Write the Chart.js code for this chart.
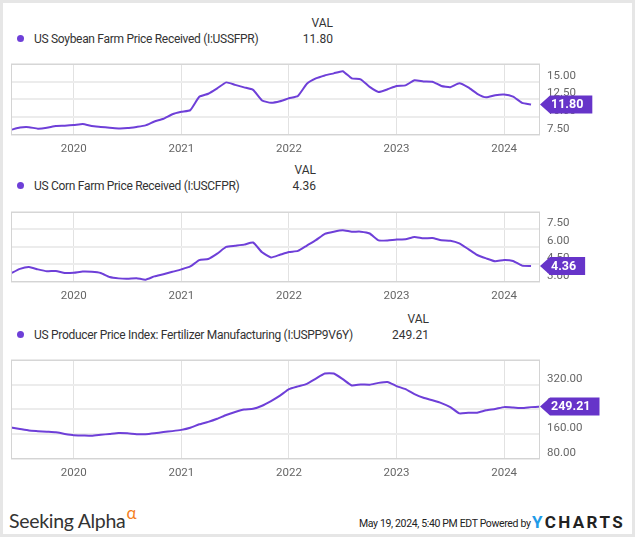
<!DOCTYPE html>
<html>
<head>
<meta charset="utf-8">
<script src="https://cdn.jsdelivr.net/npm/chart.js@4.4.1/dist/chart.umd.min.js"></script>
<style>
  body { margin: 0; background: #fff; }
  #wrap { position: relative; width: 635px; height: 537px; background: #fff; overflow: hidden;
          font-family: Roboto, "Noto Sans", sans-serif; color: #333; }
  #frame { position: absolute; left: 0; top: 0; width: 635px; height: 537px; box-sizing: border-box;
           border: 3px solid #e6e6e6; pointer-events: none; z-index: 5; }
  canvas { position: absolute; left: 0; }
  .t { position: absolute; white-space: nowrap; font-size: 12px; line-height: 14px; }
  .lg { letter-spacing: -0.3px; }
  .dot { position: absolute; width: 7px; height: 7px; border-radius: 50%; background: #6e3fd8; }
  .val { text-align: right; width: 60px; }
</style>
</head>
<body>
<div id="wrap">
  <div class="t val" style="left:273px;top:16px">VAL</div>
  <div class="dot" style="left:17px;top:35px"></div>
  <div class="t lg" style="left:34px;top:32px">US Soybean Farm Price Received (I:USSFPR)</div>
  <div class="t val" style="left:273px;top:32px">11.80</div>
  <canvas id="c1" width="635" height="110" style="top:50px"></canvas>

  <div class="t val" style="left:256px;top:163px">VAL</div>
  <div class="dot" style="left:17px;top:182px"></div>
  <div class="t lg" style="left:34px;top:179px">US Corn Farm Price Received (I:USCFPR)</div>
  <div class="t val" style="left:256px;top:179px">4.36</div>
  <canvas id="c2" width="635" height="109" style="top:198px"></canvas>

  <div class="t val" style="left:369px;top:312px">VAL</div>
  <div class="dot" style="left:17px;top:331px"></div>
  <div class="t lg" style="left:34px;top:328px">US Producer Price Index: Fertilizer Manufacturing (I:USPP9V6Y)</div>
  <div class="t val" style="left:369px;top:328px">249.21</div>
  <canvas id="c3" width="635" height="138" style="top:346px"></canvas>

  <div class="t" style="left:9px;top:509px;font-family:Lato,'Open Sans',sans-serif;font-size:19.5px;line-height:24px;color:#333;letter-spacing:-0.3px">Seeking Alpha<span style="position:relative;top:-9px;margin-left:1px;font-size:17px;color:#f4811f">α</span></div>
  <div class="t" style="left:359px;top:517px;font-size:10.5px;line-height:14px;color:#222;letter-spacing:-0.35px">May 19, 2024, 5:40 PM EDT Powered by</div>
  <div class="t" style="left:532px;top:512px;font-size:17px;line-height:20px;font-weight:bold;letter-spacing:2.4px;color:#222"><span style="color:#1e9be8">Y</span>CHARTS</div>
  <div id="frame"></div>
</div>
<script>
// monthly observations, Jun 2019 .. May 2024
const months = [
  '2019-06','2019-07','2019-08','2019-09','2019-10','2019-11','2019-12',
  '2020-01','2020-02','2020-03','2020-04','2020-05','2020-06','2020-07','2020-08','2020-09','2020-10','2020-11','2020-12',
  '2021-01','2021-02','2021-03','2021-04','2021-05','2021-06','2021-07','2021-08','2021-09','2021-10','2021-11','2021-12',
  '2022-01','2022-02','2022-03','2022-04','2022-05','2022-06','2022-07','2022-08','2022-09','2022-10','2022-11','2022-12',
  '2023-01','2023-02','2023-03','2023-04','2023-05','2023-06','2023-07','2023-08','2023-09','2023-10','2023-11','2023-12',
  '2024-01','2024-02','2024-03','2024-04','2024-05'
];
const yearTicks = [2020, 2021, 2022, 2023, 2024];

const soybean = [
  8.22, 8.55, 8.60, 8.39, 8.51, 8.77, 8.81,
  8.90, 9.06, 8.77, 8.64, 8.51, 8.43, 8.47, 8.64, 8.85, 9.40, 9.78, 10.42,
  10.76, 11.00, 12.87, 13.30, 14.06, 14.90, 14.55, 14.20, 13.85, 12.36, 12.03, 12.24,
  12.66, 12.99, 14.70, 15.46, 15.88, 16.17, 16.47, 15.46, 15.33, 14.27, 13.55, 13.93,
  14.40, 14.48, 15.20, 15.03, 14.99, 14.40, 14.23, 14.77, 14.19, 13.30, 12.80, 13.10,
  13.20, 12.90, 12.03, 11.80
];
const corn = [
  3.74, 4.12, 4.28, 4.08, 3.92, 3.95, 3.77,
  3.79, 3.89, 3.87, 3.77, 3.43, 3.31, 3.28, 3.33, 3.20, 3.48, 3.66, 3.87,
  4.08, 4.33, 4.87, 4.97, 5.43, 6.00, 6.10, 6.20, 6.38, 5.54, 5.10, 5.33,
  5.56, 5.66, 6.12, 6.58, 7.12, 7.31, 7.43, 7.31, 7.31, 7.15, 6.56, 6.56,
  6.64, 6.66, 6.85, 6.74, 6.77, 6.58, 6.54, 6.31, 5.82, 5.31, 5.02, 4.77,
  4.89, 4.80, 4.40, 4.36
];
const fertilizer = [
  182, 177, 172, 170, 168, 166, 161,
  157, 156, 155, 158, 161, 164, 163, 160, 160, 163, 167, 170,
  174, 181, 192, 200, 210, 222, 232, 240, 242, 252, 267, 284.5,
  305.6, 314.6, 322.7, 339.6, 356, 356, 338, 317.6, 320.6, 319.7, 325.8, 328.8,
  315.5, 305.6, 289.6, 277.6, 269.5, 260.5, 247.5, 227.4, 229.5, 229.5, 237.3, 241.5,
  247.5, 246.4, 244.5, 247.5, 249.21
];

const purple = '#6e3fd8';

function toYear(m) {
  const p = m.split('-');
  return +p[0] + (+p[1] - 1) / 12;
}

// chart border + last value badge
const framePlugin = {
  id: 'framePlugin',
  afterDraw(chart, args, opts) {
    const ctx = chart.ctx, a = chart.chartArea;
    ctx.save();
    ctx.strokeStyle = '#d4d4d4';
    ctx.lineWidth = 1;
    ctx.strokeRect(a.left + 0.5, a.top + 0.5, a.right - a.left - 1, a.bottom - a.top - 1);

    const data = chart.data.datasets[0].data;
    const last = data[data.length - 1].y;
    const y = chart.scales.y.getPixelForValue(last);
    const x = a.right;
    const txt = opts.text;
    ctx.font = 'bold 12.5px Roboto';
    const w = ctx.measureText(txt).width;
    ctx.fillStyle = '#6634c9';
    ctx.beginPath();
    ctx.moveTo(x, y);
    ctx.lineTo(x + 10, y - 9);
    ctx.lineTo(x + 20 + w, y - 9);
    ctx.lineTo(x + 20 + w, y + 9);
    ctx.lineTo(x + 10, y + 9);
    ctx.closePath();
    ctx.fill();
    ctx.fillStyle = '#fff';
    ctx.textBaseline = 'middle';
    ctx.textAlign = 'left';
    ctx.fillText(txt, x + 11, y + 0.5);
    ctx.restore();
  }
};

function makeChart(id, values, yMin, yMax, yStep, badge) {
  const pts = values.map((v, i) => ({ x: toYear(months[i]), y: v }));
  return new Chart(document.getElementById(id), {
    type: 'line',
    data: { datasets: [{ data: pts, borderColor: purple, borderWidth: 2, pointRadius: 0, tension: 0.15, fill: false }] },
    options: {
      responsive: false,
      animation: false,
      layout: { padding: { left: 11, top: 6, right: 0, bottom: 0 } },
      plugins: { legend: { display: false }, tooltip: { enabled: false }, framePlugin: { text: badge } },
      scales: {
        x: {
          type: 'linear',
          min: toYear('2019-06'),
          max: toYear('2024-05'),
          afterBuildTicks: s => { s.ticks = yearTicks.map(v => ({ value: v })); },
          afterFit: s => { s.height = 25; },
          grid: { color: '#e2e2e2', lineWidth: 1, drawTicks: false },
          border: { display: false },
          ticks: { color: '#666', font: { family: 'Roboto', size: 11.5 }, padding: 7, callback: v => String(v) }
        },
        y: {
          position: 'right',
          min: yMin,
          max: yMax,
          afterFit: s => { s.width = 95; },
          grid: { color: '#ececec', lineWidth: 2, drawTicks: false },
          border: { display: false },
          ticks: {
            stepSize: yStep,
            color: '#666',
            padding: 7,
            labelOffset: -6,
            font: { family: 'Roboto', size: 11.5 },
            callback: v => (v >= yMax ? '' : v.toFixed(2))
          }
        }
      }
    },
    plugins: [framePlugin]
  });
}

makeChart('c1', soybean, 7.5, 17.5, 2.5, '11.80');
makeChart('c2', corn, 3, 9, 1.5, '4.36');
makeChart('c3', fertilizer, 80, 400, 80, '249.21');
</script>
</body>
</html>
